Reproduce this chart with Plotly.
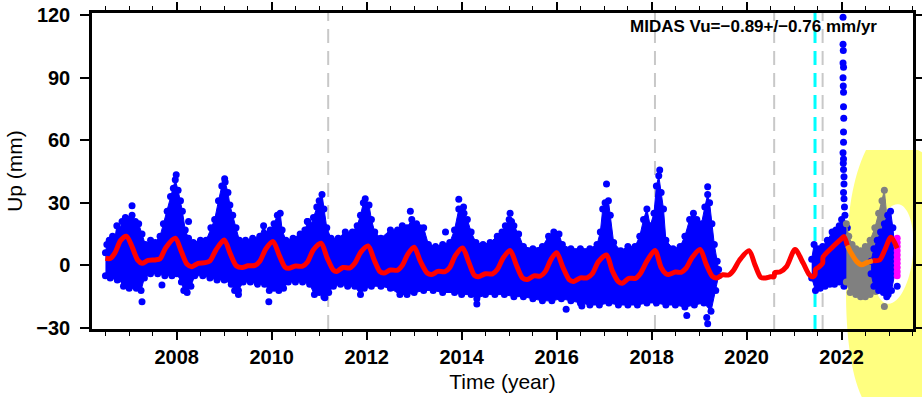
import plotly.graph_objects as go

# ---------------- station Up component (mm) ----------------
# Upper / lower edges of the dense daily-solution cloud, 2006.5 - 2019.4
main_hi_t = [2006.50, 2006.53, 2006.58, 2006.65, 2006.70, 2006.74, 2006.80, 2006.85, 2006.92, 2006.99,
             2007.06, 2007.13, 2007.20, 2007.27, 2007.34, 2007.45, 2007.55, 2007.65, 2007.72, 2007.80,
             2007.87, 2007.93, 2007.97, 2008.03, 2008.08, 2008.12, 2008.18, 2008.25, 2008.35, 2008.50,
             2008.62, 2008.72, 2008.80, 2008.88, 2008.95, 2009.02, 2009.08, 2009.12, 2009.18, 2009.25,
             2009.32, 2009.45, 2009.60, 2009.75, 2009.83, 2009.90, 2009.97, 2010.05, 2010.12, 2010.18,
             2010.22, 2010.30, 2010.45, 2010.60, 2010.70, 2010.76, 2010.82, 2010.88, 2010.95, 2011.00,
             2011.06, 2011.10, 2011.16, 2011.25, 2011.40, 2011.55, 2011.70, 2011.80, 2011.87, 2011.93,
             2011.97, 2012.05, 2012.10, 2012.17, 2012.30, 2012.50, 2012.65, 2012.75, 2012.85, 2012.95,
             2013.05, 2013.12, 2013.20, 2013.30, 2013.45, 2013.60, 2013.75, 2013.85, 2013.94, 2014.00,
             2014.05, 2014.12, 2014.20, 2014.30, 2014.45, 2014.60, 2014.75, 2014.85, 2014.92, 2015.00,
             2015.05, 2015.10, 2015.20, 2015.30, 2015.50, 2015.70, 2015.83, 2015.94, 2016.05, 2016.12,
             2016.30, 2016.50, 2016.70, 2016.85, 2016.92, 2016.97, 2017.02, 2017.09, 2017.13, 2017.20,
             2017.35, 2017.50, 2017.65, 2017.75, 2017.83, 2017.90, 2017.97, 2018.05, 2018.10, 2018.15,
             2018.20, 2018.25, 2018.30, 2018.45, 2018.60, 2018.70, 2018.80, 2018.88, 2018.95, 2019.05,
             2019.12, 2019.18, 2019.22, 2019.27, 2019.32, 2019.38, 2019.41]
main_hi = [6, 10, 12, 14, 13, 19, 17, 21, 23, 22,
           24, 21, 20, 15, 10, 12, 11, 14, 20, 26,
           33, 37, 41, 36, 31, 26, 17, 13, 11, 12,
           12, 18, 22, 31, 38, 40, 35, 29, 24, 18,
           12, 12, 13, 14, 19, 15, 17, 20, 24, 25,
           17, 12, 13, 15, 17, 21, 19, 23, 28, 31,
           34, 27, 18, 13, 13, 16, 16, 19, 24, 30,
           32, 29, 22, 16, 13, 17, 17, 19, 18, 22,
           20, 18, 18, 10, 9, 10, 11, 17, 27, 26,
           25, 22, 16, 11, 10, 11, 14, 16, 19, 22,
           21, 19, 15, 9, 8, 9, 14, 16, 15, 10,
           8, 8, 8, 10, 16, 27, 30, 31, 24, 11,
           7, 9, 9, 14, 22, 27, 19, 25, 38, 43,
           35, 27, 12, 8, 9, 14, 22, 25, 22, 20,
           28, 34, 30, 20, 10, 2, -2]
main_lo_t = [2006.50, 2006.60, 2006.75, 2006.90, 2007.00, 2007.15, 2007.25, 2007.32, 2007.45, 2007.60,
             2007.75, 2007.90, 2008.00, 2008.10, 2008.15, 2008.22, 2008.30, 2008.38, 2008.55, 2008.70,
             2008.85, 2009.00, 2009.15, 2009.22, 2009.30, 2009.40, 2009.55, 2009.70, 2009.85, 2009.95,
             2010.05, 2010.15, 2010.25, 2010.35, 2010.50, 2010.65, 2010.80, 2010.90, 2011.00, 2011.10,
             2011.20, 2011.30, 2011.45, 2011.60, 2011.75, 2011.87, 2011.95, 2012.10, 2012.30, 2012.50,
             2012.70, 2012.85, 2013.00, 2013.20, 2013.40, 2013.60, 2013.85, 2014.00, 2014.20, 2014.32,
             2014.50, 2014.70, 2014.90, 2015.10, 2015.30, 2015.50, 2015.70, 2015.90, 2016.10, 2016.30,
             2016.50, 2016.70, 2016.90, 2017.10, 2017.30, 2017.50, 2017.70, 2017.90, 2018.10, 2018.30,
             2018.50, 2018.70, 2018.90, 2019.10, 2019.25, 2019.35, 2019.41]
main_lo = [-5, -6, -7, -9, -11, -11, -12, -6, -4, -4,
           -5, -5, -4, -8, -12, -13, -10, -5, -5, -6,
           -7, -7, -9, -12, -12, -8, -8, -9, -9, -12,
           -11, -12, -11, -8, -8, -8, -9, -14, -13, -15,
           -13, -10, -9, -10, -10, -14, -11, -10, -10, -11,
           -14, -14, -13, -12, -12, -13, -13, -14, -14, -16,
           -14, -14, -14, -15, -15, -16, -17, -17, -16, -17,
           -18, -19, -19, -18, -19, -19, -19, -18, -18, -19,
           -19, -20, -19, -18, -22, -12, -5]

# Isolated solutions outside the main cloud
out_t = [2006.88, 2007.27, 2007.69, 2007.06, 2007.99, 2008.25, 2009.01, 2009.30, 2009.94, 2010.75,
         2011.12, 2012.92, 2013.66, 2013.94, 2014.04, 2014.32, 2015.02, 2016.20, 2016.53, 2017.05,
         2018.17, 2018.74, 2019.16, 2019.18, 2019.18]
out_v = [-10, -17.4, -9.4, 28.6, 43.5, 21, 41.5, -14, -17.4, 21,
         -15.5, 26, 16, 31.7, 28, -18.5, 25, -21, -19.5, 39,
         45.7, -24, -25, -28, 37.7]

# Resumed observations 2021.4 - 2022.1
b2_hi_t = [2021.37, 2021.42, 2021.50, 2021.60, 2021.70, 2021.80, 2021.88, 2021.95, 2022.00, 2022.05, 2022.12]
b2_hi = [3, 10, 8, 9, 12, 16, 17, 19, 22, 20, 18]
b2_lo_t = [2021.37, 2021.45, 2021.55, 2021.65, 2021.75, 2021.85, 2021.95, 2022.05, 2022.12]
b2_lo = [-6, -12, -11, -10, -9, -9, -8, -10, -8]

# Early-2022 excursion
spike_t = [2022.03, 2022.03, 2022.035, 2022.03, 2022.04, 2022.03, 2022.035, 2022.04, 2022.04, 2022.045,
           2022.04, 2022.04, 2022.03, 2022.04, 2022.035, 2022.04, 2022.05, 2022.05, 2022.04, 2022.05,
           2022.06, 2022.07]
spike_v = [119, 106, 103, 97, 95, 90, 86, 83, 76, 70.5,
           64, 59, 54, 51, 49, 46, 42.5, 39, 35, 32,
           28, 24]

# Solutions excluded from the estimate (grey)
ex_hi_t = [2022.10, 2022.15, 2022.22, 2022.30, 2022.40, 2022.50, 2022.60, 2022.70, 2022.78, 2022.85, 2022.90, 2022.95]
ex_hi = [20, 14, 10, 8, 7, 9, 12, 18, 25, 31, 36, 24]
ex_lo_t = [2022.10, 2022.18, 2022.30, 2022.40, 2022.50, 2022.60, 2022.70, 2022.80, 2022.95]
ex_lo = [-8, -13, -14, -15, -15, -14, -12, -10, 0]
ex_out_t = [2022.90, 2022.72]
ex_out_v = [-19.7, -12.5]

# Late-2022 observations
b3_hi_t = [2022.62, 2022.68, 2022.75, 2022.82, 2022.90, 2022.97, 2023.03, 2023.08, 2023.12]
b3_hi = [2, 8, 12, 16, 20, 24, 26, 18, 8]
b3_lo_t = [2022.62, 2022.68, 2022.78, 2022.88, 2022.98, 2023.05, 2023.12]
b3_lo = [-4, -10, -12, -13, -14, -12, -4]
b3_out_t = [2023.17, 2022.95]
b3_out_v = [-10, -15]

# Most recent rapid solutions (magenta)
rapid_t = [2023.17] * 10
rapid_v = [13, 11, 9, 7, 5, 3, 1, -1, -3, -5]

# Seasonal + offsets model
model_t = [2006.50, 2006.60, 2006.70, 2006.82, 2006.94, 2007.06, 2007.18, 2007.27, 2007.40, 2007.55,
           2007.65, 2007.77, 2007.97, 2008.10, 2008.22, 2008.32, 2008.45, 2008.60, 2008.70, 2008.83,
           2009.00, 2009.13, 2009.26, 2009.38, 2009.50, 2009.65, 2009.75, 2009.88, 2010.03, 2010.16,
           2010.28, 2010.36, 2010.50, 2010.65, 2010.75, 2010.88, 2011.04, 2011.17, 2011.30, 2011.37,
           2011.50, 2011.65, 2011.75, 2011.88, 2012.03, 2012.16, 2012.28, 2012.36, 2012.50, 2012.65,
           2012.75, 2012.87, 2013.00, 2013.13, 2013.28, 2013.37, 2013.50, 2013.65, 2013.75, 2013.87,
           2014.02, 2014.15, 2014.27, 2014.35, 2014.50, 2014.65, 2014.75, 2014.88, 2015.02, 2015.15,
           2015.28, 2015.38, 2015.52, 2015.66, 2015.76, 2015.88, 2016.00, 2016.13, 2016.27, 2016.36,
           2016.50, 2016.64, 2016.75, 2016.88, 2017.05, 2017.17, 2017.30, 2017.38, 2017.52, 2017.66,
           2017.76, 2017.90, 2018.07, 2018.20, 2018.30, 2018.36, 2018.50, 2018.62, 2018.72, 2018.86,
           2019.02, 2019.15, 2019.28, 2019.37, 2019.50, 2019.62, 2019.72, 2019.85, 2020.05, 2020.18,
           2020.30, 2020.40, 2020.50, 2020.58, 2020.59, 2020.70, 2020.84, 2021.02, 2021.19, 2021.32,
           2021.40, 2021.44, 2021.45, 2021.52, 2021.60, 2021.61, 2021.80, 2021.97, 2022.05, 2022.12,
           2022.20, 2022.32, 2022.42, 2022.53, 2022.66, 2022.80, 2022.91, 2023.04, 2023.17]
model_v = [3.4, 3.3, 6.0, 12.0, 14.0, 9.0, 2.5, 1.0, 2.4, 2.6,
           3.2, 8.5, 13.0, 6.5, 0.5, -0.6, 1.0, 1.3, 2.2, 7.5,
           12.2, 5.5, -0.3, -1.0, -0.2, 0.0, 2.0, 8.0, 11.4, 4.8,
           -0.8, -1.4, -0.3, -0.4, 1.5, 7.5, 10.6, 3.5, -2.3, -2.9,
           -1.0, -1.2, 1.0, 6.5, 9.3, 2.5, -3.0, -3.7, -2.2, -2.3,
           0.0, 5.5, 8.7, 2.0, -3.8, -4.4, -2.9, -3.0, -1.0, 4.8,
           8.3, 1.5, -4.8, -5.5, -4.0, -4.1, -2.0, 3.8, 7.2, 0.3,
           -6.0, -6.8, -5.0, -5.1, -3.0, 2.8, 6.1, -0.8, -7.0, -7.7,
           -6.0, -6.0, -4.0, 1.8, 5.0, -2.5, -7.8, -8.6, -6.2, -6.2,
           -4.0, 2.0, 7.2, -1.0, -4.0, -4.4, -3.2, -3.3, -1.5, 4.0,
           7.6, 0.5, -5.3, -6.1, -4.5, -4.6, -2.5, 2.5, 7.0, 0.0,
           -5.8, -6.0, -5.5, -5.4, -3.5, -3.2, -0.6, 7.6, 1.1, -4.5,
           -5.5, -4.5, -2.0, -0.8, 1.0, 4.0, 8.6, 12.2, 13.8, 9.5,
           5.9, 1.8, 0.3, 1.3, 2.3, 2.6, 7.4, 13.5, 8.2]
excluded_span = (2022.12, 2022.66)

# Equipment / event epochs
event_t = [2011.19, 2018.07, 2020.58, 2021.60]
eq_t = [2021.44]

BLUE = "#0000ff"
GREY = "#808080"
DOT = 7

# figure geometry (pixels)
W, H = 922, 397
ML, MR, MT, MB = 92, 9, 13, 68
PW, PH = W - ML - MR, H - MT - MB


def cloud(t_hi, v_hi, t_lo, v_lo, color, name):
    """Dense point cloud: filled outline plus dots along its edge."""
    poly = go.Scatter(x=t_hi + t_lo[::-1], y=v_hi + v_lo[::-1], mode="lines",
                      fill="toself", fillcolor=color, line=dict(color=color, width=1),
                      hoverinfo="skip", showlegend=False, name=name)
    pts = go.Scatter(x=t_hi + t_lo, y=v_hi + v_lo, mode="markers",
                     marker=dict(color=color, size=DOT, line=dict(width=0)),
                     showlegend=False, name=name)
    return [poly, pts]


def dots(t, v, color, name):
    return go.Scatter(x=t, y=v, mode="markers", marker=dict(color=color, size=DOT, line=dict(width=0)),
                      showlegend=False, name=name)


fig = go.Figure()
for tr in cloud(main_hi_t, main_hi, main_lo_t, main_lo, BLUE, "Up"):
    fig.add_trace(tr)
fig.add_trace(dots(out_t, out_v, BLUE, "Up"))
for tr in cloud(b2_hi_t, b2_hi, b2_lo_t, b2_lo, BLUE, "Up"):
    fig.add_trace(tr)
fig.add_trace(dots(spike_t, spike_v, BLUE, "Up"))
for tr in cloud(ex_hi_t, ex_hi, ex_lo_t, ex_lo, GREY, "excluded"):
    fig.add_trace(tr)
fig.add_trace(dots(ex_out_t, ex_out_v, GREY, "excluded"))
for tr in cloud(b3_hi_t, b3_hi, b3_lo_t, b3_lo, BLUE, "Up"):
    fig.add_trace(tr)
fig.add_trace(dots(b3_out_t, b3_out_v, BLUE, "Up"))
fig.add_trace(dots(rapid_t, rapid_v, "#ff00ff", "rapid"))

# model curve: red, orange across the excluded interval
i0 = model_t.index(excluded_span[0])
i1 = model_t.index(excluded_span[1])
segments = [(0, i0 + 1, "#ff0000"), (i0, i1 + 1, "#ff8000"), (i1, len(model_t), "#ff0000")]
for a, b, col in segments:
    fig.add_trace(go.Scatter(x=model_t[a:b], y=model_v[a:b], mode="lines",
                             line=dict(color=col, width=5, shape="spline", smoothing=0.8),
                             showlegend=False, name="model"))

# event epochs
for t in event_t:
    fig.add_shape(type="line", xref="x", yref="paper", x0=t, x1=t, y0=0, y1=1, layer="below",
                  line=dict(color="#c8c8c8", width=2, dash="14px,8px"))
for t in eq_t:
    fig.add_shape(type="line", xref="x", yref="paper", x0=t, x1=t, y0=0, y1=1, layer="below",
                  line=dict(color="#00ffff", width=3, dash="14px,8px"))


# highlighter ring around the latest data
def P(x, y):
    return f"{(x - ML) / PW:.5f},{(H - MB - y) / PH:.5f}"


def ellipse_path(cx, cy, rx, ry, deg):
    import math
    k = 0.5523
    th = math.radians(deg)
    c, s = math.cos(th), math.sin(th)

    def rot(x, y):
        return P(cx + x * c - y * s, cy + x * s + y * c)

    pts = [
        [(rx, k * ry), (k * rx, ry), (0, ry)],
        [(-k * rx, ry), (-rx, k * ry), (-rx, 0)],
        [(-rx, -k * ry), (-k * rx, -ry), (0, -ry)],
        [(k * rx, -ry), (rx, -k * ry), (rx, 0)],
    ]
    d = "M" + rot(rx, 0)
    for seg in pts:
        d += " C" + " ".join(rot(*p) for p in seg)
    return d + " Z"


outer = ("M" + P(866, 150) + " L" + P(918, 150) + " L" + P(935, 160) + " L" + P(935, 405)
         + " L" + P(866, 405) + " C" + P(852, 382) + " " + P(846, 340) + " " + P(846, 290)
         + " C" + P(846, 230) + " " + P(849, 185) + " " + P(866, 150) + " Z")
inner = ellipse_path(893, 254, 20, 50, 6)
fig.add_shape(type="path", xref="paper", yref="paper", path=outer + " " + inner,
              fillrule="evenodd", fillcolor="rgb(255,255,128)", line=dict(width=0), layer="below")

fig.add_annotation(text="MIDAS Vu=\u22120.89+/\u22120.76 mm/yr", xref="paper", yref="paper",
                   x=(753 - ML) / PW, y=(H - MB - 26) / PH, xanchor="center", yanchor="middle",
                   showarrow=False, font=dict(family="Liberation Sans, Arial, sans-serif", size=17,
                                              color="black", weight="bold"))

FONT = "Liberation Sans, Arial, sans-serif"
axis_common = dict(showline=True, linecolor="black", linewidth=2.5, mirror="ticks",
                   ticks="outside", tickcolor="black", tickwidth=1.5, showgrid=False, zeroline=False,
                   automargin=False,
                   tickfont=dict(family=FONT, size=20, color="black", weight="bold"))

fig.update_xaxes(range=[2006.217, 2023.503], tick0=2008, dtick=2, ticklen=8, **axis_common,
                 minor=dict(ticks="outside", dtick=0.5, tick0=2008, ticklen=4, tickwidth=1.2,
                            tickcolor="black", showgrid=False),
                 title=dict(text="Time (year)", font=dict(family=FONT, size=21, color="black"),
                            standoff=8))
fig.update_yaxes(range=[-30.5, 121], tick0=0, dtick=30, ticklen=9, ticklabelstandoff=6,
                 **axis_common,
                 title=dict(text="Up (mm)", font=dict(family=FONT, size=21, color="black"),
                            standoff=8))

fig.update_layout(width=W, height=H, margin=dict(l=ML, r=MR, t=MT, b=MB),
                  paper_bgcolor="white", plot_bgcolor="white", showlegend=False)

fig.write_html("out.html")
